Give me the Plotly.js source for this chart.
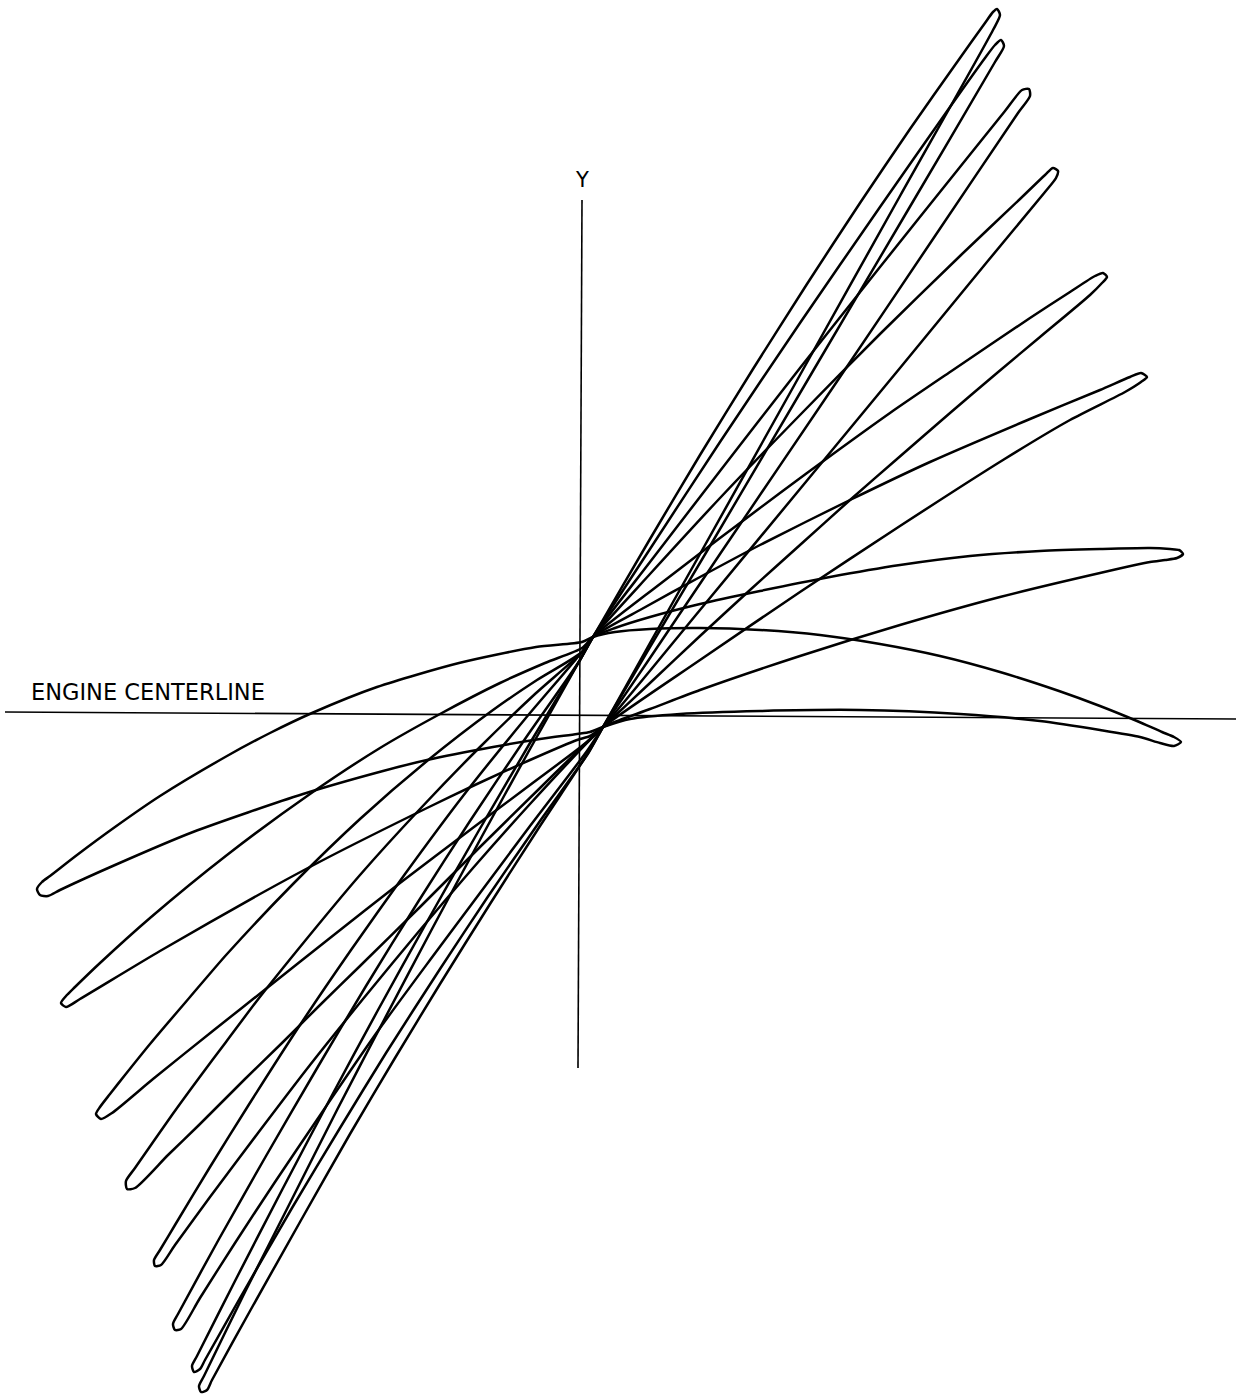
<!DOCTYPE html>
<html><head><meta charset="utf-8">
<script src="https://cdn.plot.ly/plotly-3.0.1.min.js"></script>
<style>html,body{margin:0;padding:0;background:#fff;} #chart{width:1236px;height:1397px;}</style>
</head><body><div id="chart"></div>
<script>
// Orbit loops. x: horizontal offset from the Y axis, y: offset above the engine centerline.
const loop1X = [-543,-538,-530,-503,-465,-420,-353,-310,-268,-203,-121,-44,2,13,35,70,120,180,240,300,360,420,479,520,557,582,594,601,594,580,560,520,460,380,280,180,100,50,23,10,-3,-40,-87,-153,-197,-277,-387,-465,-520,-532,-540,-543];
const loop1Y = [-177,-170,-164,-143,-115,-84,-44,-21,-1,25,49,65,70,75,80,83,84,82,77,68,56,40,21,6,-9,-20,-25,-30,-34,-31,-25,-18,-9,-2,2,1,-2,-7,-15,-20,-22,-27,-35,-48,-59,-82,-120,-153,-178,-184,-183,-177];

const loop2X = [-519,-514,-505,-480,-430,-353,-270,-200,-140,-80,-35,2,13,35,70,120,180,250,320,390,460,520,570,590,599,603,597,585,570,520,420,320,220,120,70,40,23,10,-3,-50,-103,-153,-253,-320,-420,-500,-514,-519];
const loop2Y = [-291,-284,-275,-251,-206,-143,-82,-36,-2,29,49,64,75,84,95,108,121,135,147,156,161,163,164,163,162,158,154,152,150,139,115,87,56,22,3,-8,-15,-24,-28,-48,-72,-96,-146,-182,-239,-287,-295,-291];

const loop3X = [-484,-480,-470,-455,-430,-390,-353,-287,-220,-153,-87,-43,2,13,60,120,180,270,350,450,520,550,561,567,561,545,490,423,320,220,120,23,7,-50,-110,-180,-250,-313,-366,-427,-468,-479,-484];
const loop3Y = [-402,-395,-382,-363,-332,-285,-242,-172,-107,-49,2,32,60,75,102,135,167,212,250,293,322,335,339,335,330,320,292,252,186,120,52,-15,-30,-73,-118,-171,-226,-276,-318,-367,-401,-407,-402];

const loop4X = [-453,-454,-445,-408,-381,-354,-324,-280,-220,-160,-100,-45,2,13,80,140,200,253,310,373,450,490,515,523,527,522,510,460,417,370,317,270,220,170,120,70,23,7,-40,-100,-160,-220,-262,-297,-335,-381,-412,-445,-453];
const loop4Y = [-477,-469,-456,-403,-366,-330,-290,-235,-163,-97,-35,18,60,75,128,174,219,258,299,342,394,420,436,439,435,429,417,375,339,299,253,212,167,122,76,29,-15,-30,-76,-135,-195,-254,-295,-330,-367,-413,-443,-476,-477];

const loop5X = [-425,-426,-420,-405,-370,-332,-280,-229,-175,-117,-55,2,13,70,140,220,300,380,440,465,473,478,476,465,407,320,220,120,23,7,-50,-107,-160,-217,-270,-322,-370,-405,-419,-425];
const loop5Y = [-554,-548,-538,-513,-455,-394,-313,-238,-162,-84,-7,60,75,138,214,297,378,456,513,537,544,541,534,520,450,344,223,102,-15,-31,-92,-156,-218,-287,-353,-421,-485,-533,-553,-554];

const loop6X = [-405,-407,-402,-361,-314,-264,-214,-162,-110,-55,0,13,70,140,220,300,380,425,442,449,450,438,355,260,140,70,23,7,-50,-100,-150,-205,-255,-305,-345,-380,-399,-405];
const loop6Y = [-618,-612,-602,-527,-444,-358,-274,-190,-109,-27,52,75,150,241,344,445,545,601,622,623,616,599,476,335,158,54,-15,-39,-114,-181,-248,-323,-396,-470,-531,-586,-617,-618];

const loop7X = [-386,-388,-383,-345,-298,-250,-202,-152,-102,-50,0,13,70,140,220,300,370,405,415,421,424,415,328,233,130,70,23,9,-40,-93,-140,-194,-240,-288,-340,-375,-380,-386];
const loop7Y = [-660,-654,-644,-569,-478,-387,-298,-208,-120,-31,52,75,163,270,389,505,605,654,667,672,666,650,502,341,166,65,-15,-40,-109,-186,-257,-341,-416,-496,-586,-648,-657,-660];

const loop8X = [-379,-381,-376,-335,-289,-243,-196,-148,-99,-50,0,13,70,120,173,227,280,330,380,405,413,417,420,413,320,220,120,70,23,8,-40,-90,-140,-185,-230,-280,-330,-368,-373,-379];
const loop8Y = [-680,-674,-664,-580,-489,-398,-308,-217,-126,-37,52,75,173,257,343,428,509,583,654,689,700,703,697,682,516,337,158,69,-15,-41,-114,-192,-272,-346,-422,-510,-599,-668,-678,-680];

// Reference lines: the Y axis and the engine centerline
const yAxisX = [2, -2];
const yAxisY = [512, -356];
const centerlineX = [-575, 656];
const centerlineY = [0, -7];

const loops = [
  [loop1X, loop1Y], [loop2X, loop2Y], [loop3X, loop3Y], [loop4X, loop4Y],
  [loop5X, loop5Y], [loop6X, loop6Y], [loop7X, loop7Y], [loop8X, loop8Y]
];

const traces = loops.map(([x, y]) => ({
  type: 'scatter', mode: 'lines', x: x, y: y,
  line: {color: '#000', width: 2.5, shape: 'spline', smoothing: 0.7},
  hoverinfo: 'skip'
}));
traces.push({type: 'scatter', mode: 'lines', x: yAxisX, y: yAxisY,
  line: {color: '#000', width: 1.6}, hoverinfo: 'skip'});
traces.push({type: 'scatter', mode: 'lines', x: centerlineX, y: centerlineY,
  line: {color: '#000', width: 1.6}, hoverinfo: 'skip'});

const layout = {
  width: 1236, height: 1397,
  margin: {l: 0, r: 0, t: 0, b: 0},
  paper_bgcolor: '#fff', plot_bgcolor: '#fff',
  showlegend: false,
  xaxis: {range: [-580, 656], visible: false, fixedrange: true},
  yaxis: {range: [-685, 712], visible: false, fixedrange: true},
  annotations: [
    {x: 2, y: 532, xref: 'x', yref: 'y', text: 'Y', showarrow: false,
     xanchor: 'center', yanchor: 'middle',
     font: {family: 'DejaVu Sans, sans-serif', size: 21, color: '#000'}},
    {x: -551, y: 20, xref: 'x', yref: 'y', text: 'ENGINE CENTERLINE', showarrow: false,
     xanchor: 'left', yanchor: 'middle',
     font: {family: 'DejaVu Sans, sans-serif', size: 22.5, color: '#000'}}
  ]
};

Plotly.newPlot('chart', traces, layout, {staticPlot: true, displayModeBar: false});
</script>
</body></html>
